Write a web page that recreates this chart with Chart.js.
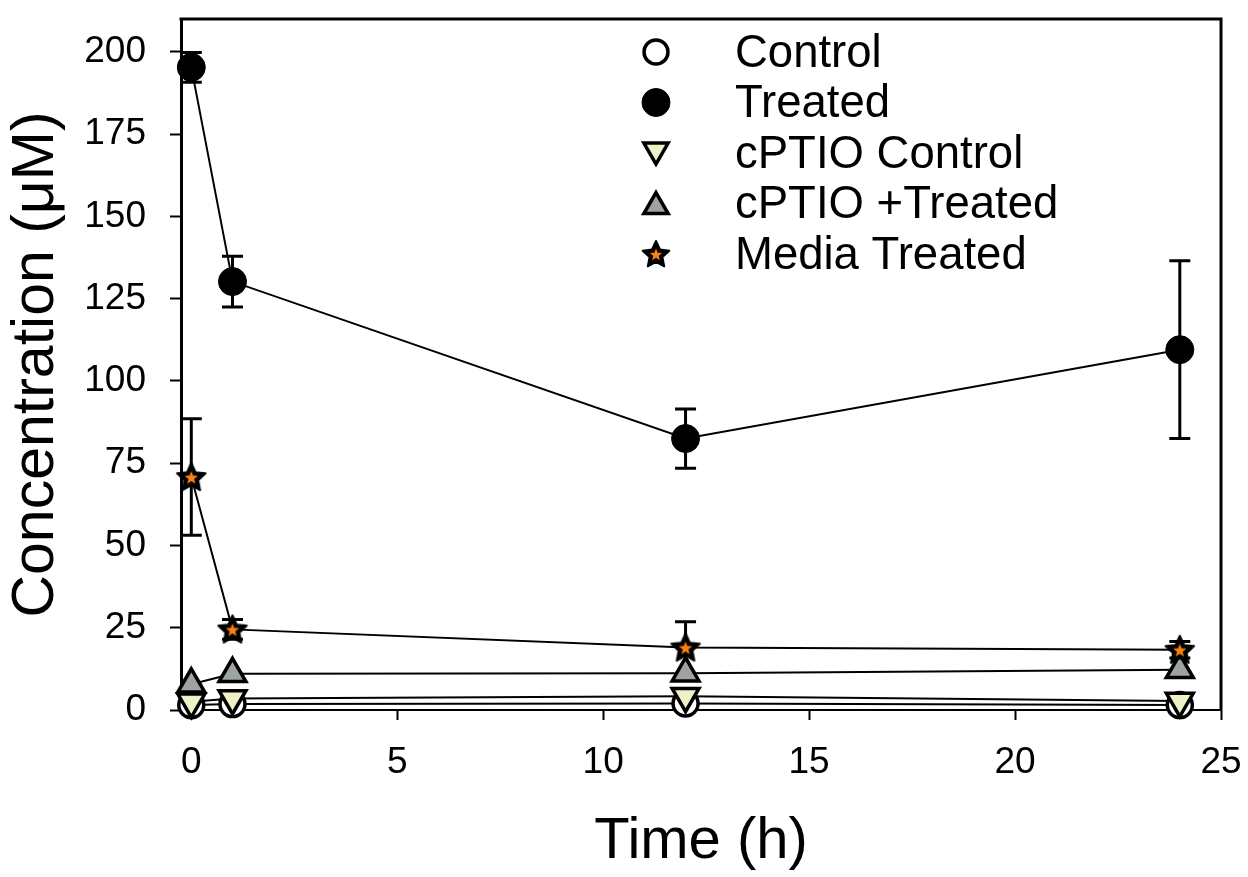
<!DOCTYPE html>
<html>
<head>
<meta charset="utf-8">
<script src="https://cdn.jsdelivr.net/npm/chart.js@4.4.1/dist/chart.umd.min.js"></script>
<style>
  html, body { margin: 0; padding: 0; background: #ffffff; }
  #wrap { width: 1248px; height: 877px; }
</style>
</head>
<body>
<div id="wrap"><canvas id="c" width="1248" height="877"></canvas></div>
<script>
// ---- data ----
const times = [0, 1, 12, 24];
const control = [1.5, 1.8, 2.0, 1.5];
const treated = [195.3, 130.2, 82.5, 109.5];
const treatedErr = [4.5, 7.7, 9.0, 27.0];
const cptioControl = [2.5, 3.5, 4.2, 2.7];
const cptioTreated = [7.8, 11.0, 11.2, 12.2];
const mediaTreated = [70.8, 24.5, 19.0, 18.3];
const mediaTreatedErr = [17.7, 3.0, 7.8, 2.5];
const xTicks = [0, 5, 10, 15, 20, 25];
const yTicks = [0, 25, 50, 75, 100, 125, 150, 175, 200];
const seriesNames = ['Control', 'Treated', 'cPTIO Control', 'cPTIO +Treated', 'Media Treated'];
const xTitle = 'Time (h)';
const yTitle = 'Concentration (\u03bcM)';

const FONT = 'Arial, "Liberation Sans", sans-serif';

// filled star marker: black outlined star with an orange centre
function makeStar(outerR, innerR, coreOuter, coreInner) {
  const size = Math.ceil(outerR * 2 + 4);
  const cv = document.createElement('canvas');
  cv.width = size; cv.height = size;
  const g = cv.getContext('2d');
  const c = size / 2;
  function starPath(ro, ri) {
    g.beginPath();
    for (let i = 0; i < 10; i++) {
      const r = i % 2 === 0 ? ro : ri;
      const a = -Math.PI / 2 + i * Math.PI / 5;
      const px = c + r * Math.cos(a), py = c + 1 + r * Math.sin(a);
      if (i === 0) g.moveTo(px, py); else g.lineTo(px, py);
    }
    g.closePath();
  }
  starPath(outerR, innerR);
  g.fillStyle = '#000000';
  g.fill();
  g.lineJoin = 'round';
  g.lineWidth = 2;
  g.strokeStyle = '#000000';
  g.stroke();
  starPath(coreOuter, coreInner);
  g.fillStyle = '#f7820f';
  g.fill();
  return cv;
}
const starPlot = makeStar(15, 7.2, 7, 3);
const starLegend = makeStar(14, 6.8, 6.5, 2.8);

function pts(values) {
  return times.map((t, i) => ({ x: t, y: values[i] }));
}

const common = {
  borderColor: '#000000',
  borderWidth: 2,
  pointBorderColor: '#000000',
  tension: 0,
  clip: false,
  fill: false
};

const datasets = [
  Object.assign({}, common, {
    label: seriesNames[0], data: pts(control), order: 5,
    pointStyle: 'circle', pointRadius: 12.5, pointBorderWidth: 3.5,
    pointBackgroundColor: '#ffffff', legendRadius: 12
  }),
  Object.assign({}, common, {
    label: seriesNames[1], data: pts(treated), order: 4, errors: treatedErr,
    pointStyle: 'circle', pointRadius: 14, pointBorderWidth: 1,
    pointBackgroundColor: '#000000', legendRadius: 14
  }),
  Object.assign({}, common, {
    label: seriesNames[2], data: pts(cptioControl), order: 3,
    pointStyle: 'triangle', pointRotation: 180, pointRadius: 15.5, pointBorderWidth: 3.5,
    pointBackgroundColor: '#f0f0c6', legendRadius: 14
  }),
  Object.assign({}, common, {
    label: seriesNames[3], data: pts(cptioTreated), order: 2,
    pointStyle: 'triangle', pointRadius: 15.5, pointBorderWidth: 3.5,
    pointBackgroundColor: '#9da2a2', legendRadius: 14
  }),
  Object.assign({}, common, {
    label: seriesNames[4], data: pts(mediaTreated), order: 1, errors: mediaTreatedErr,
    pointStyle: starPlot, pointRadius: 15, pointBorderWidth: 0,
    pointBackgroundColor: '#f7820f', legendImage: starLegend
  })
];

// vertical error bars with caps, drawn behind the markers
const errorBars = {
  id: 'errorBars',
  beforeDatasetsDraw(chart) {
    const ctx = chart.ctx;
    const xs = chart.scales.x, ys = chart.scales.y;
    ctx.save();
    ctx.strokeStyle = '#000000';
    ctx.lineWidth = 3;
    chart.data.datasets.forEach(ds => {
      if (!ds.errors) return;
      ds.data.forEach((p, i) => {
        const e = ds.errors[i];
        const px = xs.getPixelForValue(p.x);
        const top = ys.getPixelForValue(p.y + e);
        const bot = ys.getPixelForValue(p.y - e);
        const half = 10.5;
        ctx.beginPath();
        ctx.moveTo(px, top); ctx.lineTo(px, bot);
        ctx.moveTo(px - half, top); ctx.lineTo(px + half, top);
        ctx.moveTo(px - half, bot); ctx.lineTo(px + half, bot);
        ctx.stroke();
      });
    });
    ctx.restore();
  }
};

// top and right edges of the plot frame
const frame = {
  id: 'frame',
  afterDraw(chart) {
    const { left, right, top, bottom } = chart.chartArea;
    const ctx = chart.ctx;
    ctx.save();
    ctx.strokeStyle = '#000000';
    ctx.lineWidth = 3;
    ctx.beginPath();
    ctx.moveTo(left - 1.5, top);
    ctx.lineTo(right, top);
    ctx.lineTo(right, bottom + 1);
    ctx.stroke();
    ctx.restore();
  }
};

// legend inside the plot area
const insideLegend = {
  id: 'insideLegend',
  afterDraw(chart) {
    const ctx = chart.ctx;
    const markerX = 656, textX = 735, firstY = 52, rowGap = 50.5;
    ctx.save();
    ctx.font = '45.5px ' + FONT;
    ctx.textBaseline = 'middle';
    ctx.textAlign = 'left';
    chart.data.datasets.forEach((ds, i) => {
      const y = firstY + i * rowGap;
      if (ds.legendImage) {
        const im = ds.legendImage;
        ctx.drawImage(im, markerX - im.width / 2, y - im.height / 2);
      } else {
        ctx.fillStyle = ds.pointBackgroundColor;
        ctx.strokeStyle = '#000000';
        ctx.lineWidth = ds.pointBorderWidth;
        Chart.helpers.drawPoint(ctx, {
          pointStyle: ds.pointStyle,
          rotation: ds.pointRotation || 0,
          radius: ds.legendRadius,
          borderWidth: ds.pointBorderWidth
        }, markerX, y + (ds.pointStyle === 'triangle' ? (ds.pointRotation ? -3 : 3) : 0));
      }
      ctx.fillStyle = '#000000';
      ctx.fillText(ds.label, textX, y + 2);
    });
    ctx.restore();
  }
};

new Chart(document.getElementById('c'), {
  type: 'line',
  data: { datasets },
  plugins: [errorBars, frame, insideLegend],
  options: {
    responsive: false,
    animation: false,
    devicePixelRatio: 1,
    layout: { padding: { top: 10, right: 27, left: 0, bottom: 0 } },
    plugins: { legend: { display: false }, tooltip: { enabled: false } },
    scales: {
      x: {
        type: 'linear',
        min: -0.25, max: 25,
        z: 1,
        afterBuildTicks(s) { s.ticks = xTicks.map(v => ({ value: v })); },
        afterFit(s) { s.height = 167; s.paddingLeft = 0; s.paddingRight = 0; },
        grid: { drawOnChartArea: false, drawTicks: true, tickLength: 10, tickWidth: 2, color: '#000000' },
        border: { display: true, width: 2, color: '#000000' },
        ticks: { font: { family: FONT, size: 37 }, color: '#000000', padding: 21, maxRotation: 0 },
        title: { display: true, text: xTitle, font: { family: FONT, size: 58 }, color: '#000000', padding: { top: 0, bottom: 0 } }
      },
      y: {
        type: 'linear',
        min: 0, max: 210,
        z: 1,
        afterBuildTicks(s) { s.ticks = yTicks.map(v => ({ value: v })); },
        afterFit(s) { s.width = 181; s.paddingTop = 0; s.paddingBottom = 0; },
        grid: { drawOnChartArea: false, drawTicks: true, tickLength: 11, tickWidth: 2, color: '#000000' },
        border: { display: true, width: 3, color: '#000000' },
        ticks: { font: { family: FONT, size: 37 }, color: '#000000', padding: 24 },
        title: { display: true, text: yTitle, font: { family: FONT, size: 59 }, color: '#000000', padding: { top: 1, bottom: 0 } }
      }
    }
  }
});
</script>
</body>
</html>
